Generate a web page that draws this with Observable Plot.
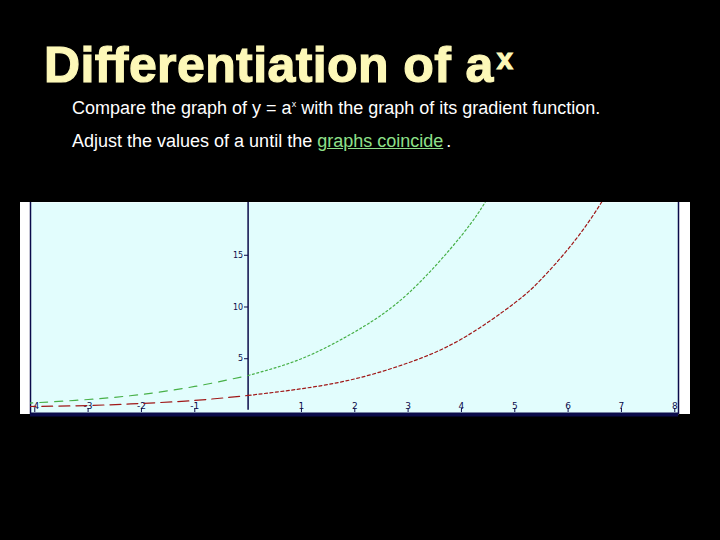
<!DOCTYPE html>
<html>
<head>
<meta charset="utf-8">
<script src="https://cdn.jsdelivr.net/npm/d3@7"></script>
<script src="https://cdn.jsdelivr.net/npm/@observablehq/plot@0.6"></script>
<style>
  html, body { margin: 0; padding: 0; background: #000; }
  #page { position: relative; width: 720px; height: 540px; background: #000; overflow: hidden; font-family: "Liberation Sans", Arial, sans-serif; }
  #title { position: absolute; left: 44px; top: 40px; font-size: 50px; line-height: 1; font-weight: bold; color: #fdf8b8; -webkit-text-stroke: 1.2px #fdf8b8; letter-spacing: 0.4px; white-space: nowrap; }
  #title sup { font-size: 29px; position: relative; top: -13px; vertical-align: baseline; margin-left: 3px; }
  .sub { position: absolute; left: 72px; font-size: 18px; line-height: 1; color: #fff; white-space: nowrap; }
  .sub sup { font-size: 9px; vertical-align: baseline; position: relative; top: -7px; }
  #s1 { top: 99px; }
  #s2 { top: 132px; }
  .link { color: #8fe08a; text-decoration: underline; }
  #chart { position: absolute; left: 20px; top: 202px; }
</style>
</head>
<body>
<div id="page">
  <div id="title">Differentiation of a<sup>x</sup></div>
  <div class="sub" id="s1">Compare the graph of y = a<sup>x</sup> with the graph of its gradient function.</div>
  <div class="sub" id="s2">Adjust the values of a until the <span class="link">graphs coincide</span><span style="margin-left:3px">.</span></div>
  <div id="chart"></div>
</div>
<script>
// Axis domains
const xDomain = [-4.08, 8.07];
const yDomain = [-0.39, 20.1];
// Tick values and labels
const xTicks = [-4, -3, -2, -1, 1, 2, 3, 4, 5, 6, 7, 8];
const yTicks = [5, 10, 15];
// Red curve: y = a^x
const redX = [-4.08, -4, -3, -2, -1, 0, 1, 2, 3, 4, 5, 5.5, 6, 6.5, 7];
const redY = [0.38, 0.39, 0.48, 0.68, 0.97, 1.45, 2.1, 3.05, 4.6, 6.9, 10.4, 12.7, 15.6, 19.1, 23.3];
// Green curve: gradient function
const greenX = [-4.08, -4, -3, -2, -1, 0, 1, 2, 3, 4, 4.5, 5];
const greenY = [0.72, 0.74, 1.06, 1.55, 2.32, 3.38, 5.0, 7.6, 11.3, 16.9, 20.6, 25];

const red = redX.map((x, i) => ({x, y: redY[i]}));
const green = greenX.map((x, i) => ({x, y: greenY[i]}));

const navy = "#0b0b4a";
const W = 670, H = 212;

const plot = Plot.plot({
  width: W,
  height: H,
  marginLeft: 10,
  marginRight: 12,
  marginTop: 0,
  marginBottom: 0,
  style: { background: "#ffffff", overflow: "visible" },
  x: { domain: xDomain, axis: null },
  y: { domain: yDomain, axis: null },
  marks: [
    Plot.frame({ fill: "#e2fdfd", stroke: "none" }),
    Plot.ruleX([xDomain[0], xDomain[1]], { stroke: navy, strokeWidth: 1.5 }),
    Plot.ruleY([yDomain[0]], { stroke: navy, strokeWidth: 4 }),
    Plot.ruleX([0], { stroke: navy, strokeWidth: 1.5, y1: yDomain[0] + 0.4, y2: yDomain[1] }),
    // y ticks and labels
    Plot.tickY(yTicks, { y: d => d, stroke: navy, strokeWidth: 1, insetLeft: 214, insetRight: 430 }),
    Plot.text(yTicks, { x: 0, y: d => d, text: d => String(d), dx: -5, textAnchor: "end", fill: navy, fontSize: 8, fontFamily: "DejaVu Sans" }),
    // x ticks and labels
    Plot.tickX(xTicks, { x: d => d, stroke: navy, strokeWidth: 1, insetTop: 206, insetBottom: 2 }),
    Plot.text(xTicks, { x: d => d, text: d => String(d), frameAnchor: "bottom", lineAnchor: "bottom", dy: -6, fill: navy, fontSize: 9, fontFamily: "DejaVu Sans" }),
    // curves: dashed on the left, dotted on the right
    Plot.line(green.filter(d => d.x <= 0), { x: "x", y: "y", stroke: "#48b048", strokeWidth: 1.2, strokeDasharray: "8,7", curve: "natural", clip: true }),
    Plot.line(green.filter(d => d.x >= 0), { x: "x", y: "y", stroke: "#48b048", strokeWidth: 1.2, strokeDasharray: "2,2.5", curve: "natural", clip: true }),
    Plot.line(red.filter(d => d.x <= 0), { x: "x", y: "y", stroke: "#a01818", strokeWidth: 1.2, strokeDasharray: "11,6", curve: "natural", clip: true }),
    Plot.line(red.filter(d => d.x >= 0), { x: "x", y: "y", stroke: "#a01818", strokeWidth: 1.2, strokeDasharray: "3,2.5", curve: "natural", clip: true })
  ]
});
document.getElementById("chart").appendChild(plot);
</script>
</body>
</html>
